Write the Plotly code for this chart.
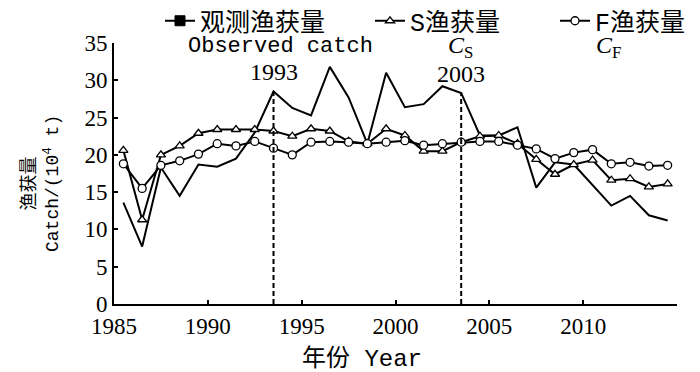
import plotly.graph_objects as go

years = list(range(1985, 2015))
observed = [13.6, 7.7, 18.3, 14.5, 18.7, 18.4, 19.5, 23.0, 28.5, 26.3, 25.3, 31.8, 27.7, 21.5, 31.0,
            26.4, 26.8, 29.2, 28.3, 22.6, 22.6, 23.7, 15.6, 19.0, 18.7, 15.9, 13.2, 14.5, 11.9, 11.2]
cs = [20.6, 11.3, 20.0, 21.2, 22.9, 23.4, 23.4, 23.4, 23.2, 22.5, 23.5, 23.2, 21.8, 21.5, 23.5,
      22.6, 20.5, 20.5, 21.7, 22.5, 22.6, 21.5, 19.4, 17.4, 18.7, 19.3, 16.6, 16.8, 15.7, 16.1]
cf = [18.8, 15.5, 18.6, 19.2, 20.1, 21.5, 21.2, 21.8, 20.9, 20.0, 21.7, 21.8, 21.7, 21.5, 21.7,
      21.9, 21.3, 21.5, 21.7, 21.8, 21.8, 21.3, 20.8, 19.5, 20.3, 20.7, 18.8, 19.0, 18.5, 18.6]
mark_years = [1993, 2003]
x_ticks = [1985, 1990, 1995, 2000, 2005, 2010]
y_ticks = [0, 5, 10, 15, 20, 25, 30, 35]

# points are plotted at mid-year
xpos = [y + 0.5 for y in years]

CJK = "Liberation Mono, Noto Sans CJK SC"
SERIF = "Liberation Serif, Noto Sans CJK SC"

W, H = 700, 372
L, R, T, B = 106, 31, 35, 76
PW, PH = W - L - R, H - T - B


def px(p):
    return (p - L) / PW


def py(p):
    return (H - B - p) / PH


def note(text, x, y, size, family=CJK, angle=0):
    fig.add_annotation(x=px(x), y=py(y), xref="paper", yref="paper", text=text,
                       showarrow=False, xanchor="center", yanchor="middle", textangle=angle,
                       font=dict(family=family, size=size, color="black"))


fig = go.Figure()
fig.add_trace(go.Scatter(x=xpos, y=observed, mode="lines", line=dict(color="black", width=2),
                         showlegend=False))
fig.add_trace(go.Scatter(x=xpos, y=cs, mode="lines+markers", name="S渔获量",
                         line=dict(color="black", width=2), legendrank=2, legendwidth=140,
                         marker=dict(symbol="triangle-up", size=8, color="white",
                                     line=dict(color="black", width=1.3))))
fig.add_trace(go.Scatter(x=xpos, y=cf, mode="lines+markers", name="F渔获量",
                         line=dict(color="black", width=2), legendrank=3, legendwidth=95,
                         marker=dict(symbol="circle", size=8, color="white",
                                     line=dict(color="black", width=1.3))))
# legend-only entry for observed catch (square marker)
fig.add_trace(go.Scatter(x=[None], y=[None], mode="lines+markers", name="观测渔获量",
                         line=dict(color="black", width=2), legendrank=1, legendwidth=165,
                         marker=dict(symbol="square-dot", size=10, color="black",
                                     line=dict(color="black", width=1))))

for yr in mark_years:
    i = years.index(yr)
    fig.add_shape(type="line", x0=xpos[i], x1=xpos[i], y0=0, y1=observed[i],
                  line=dict(color="black", width=2, dash="5px,3px"))
    fig.add_annotation(x=xpos[i], y=observed[i], text=str(yr), showarrow=False,
                       xanchor="center", yshift=4, yanchor="bottom",
                       font=dict(family=SERIF, size=24, color="black"))

# second legend row
note("Observed catch", 272, 38, 22)
note("<i>C</i><sub>S</sub>", 452, 39, 24, SERIF)
note("<i>C</i><sub>F</sub>", 600, 39, 24, SERIF)

# axis titles
note("年份 Year", 354, 351, 24)
note("渔获量<br>Catch/(10<sup>4</sup> t)", 33, 176, 18, CJK, -90)

fig.update_layout(
    width=W, height=H,
    margin=dict(l=L, r=R, t=T, b=B, autoexpand=False),
    paper_bgcolor="white", plot_bgcolor="white",
    showlegend=True,
    legend=dict(orientation="h", x=px(152), y=py(13), xanchor="left", yanchor="middle",
                font=dict(family=CJK, size=25, color="black"),
                bgcolor="rgba(0,0,0,0)", itemwidth=30),
    xaxis=dict(range=[1985, 2015], tickvals=x_ticks + [2015], ticktext=[str(t) for t in x_ticks] + [""],
               ticks="inside", ticklen=4, tickwidth=1.5, tickcolor="black",
               showline=True, linecolor="black", linewidth=2, showgrid=False, zeroline=False,
               tickfont=dict(family=SERIF, size=23, color="black")),
    yaxis=dict(range=[0, 35], tickvals=y_ticks, ticks="inside", ticklen=4, tickwidth=1.5,
               tickcolor="black", showline=True, linecolor="black", linewidth=2,
               showgrid=False, zeroline=False,
               tickfont=dict(family=SERIF, size=23, color="black")),
)

fig.write_html("out.html")
